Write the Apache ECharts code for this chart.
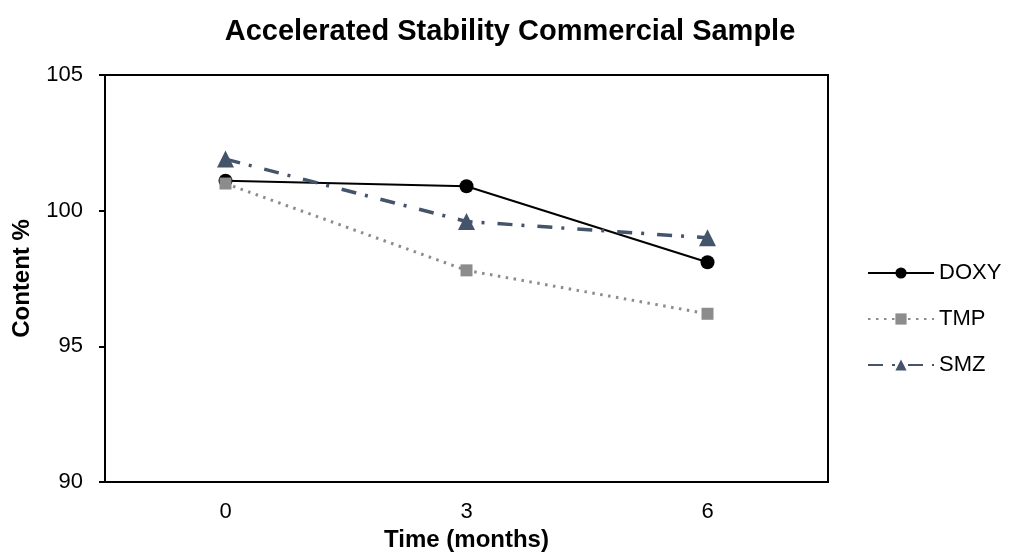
<!DOCTYPE html>
<html>
<head>
<meta charset="utf-8">
<script src="https://cdn.jsdelivr.net/npm/echarts@6/dist/echarts.min.js"></script>
<style>html,body{margin:0;padding:0;background:#fff}#c{width:1009px;height:558px}</style>
</head>
<body>
<div id="c"></div>
<script>
const categories = ['0', '3', '6'];
const doxy = [101.1, 100.9, 98.1];
const tmp = [101.0, 97.8, 96.2];
const smz = [101.9, 99.6, 99.0];
const seriesNames = ['DOXY', 'TMP', 'SMZ'];

const font = 'Liberation Sans, Arial, sans-serif';
const chart = echarts.init(document.getElementById('c'), null, {renderer: 'canvas'});
chart.setOption({
  animation: false,
  backgroundColor: '#fff',
  title: {
    text: 'Accelerated Stability Commercial Sample',
    left: 505, top: 12, textAlign: 'center',
    textStyle: {fontFamily: font, fontSize: 29, fontWeight: 'bold', color: '#000'}
  },
  grid: {left: 105, right: 181, top: 75, bottom: 76, show: true, borderColor: '#000', borderWidth: 2, backgroundColor: 'transparent'},
  legend: {
    orient: 'vertical', left: 862, top: 257,
    itemWidth: 66, itemHeight: 14, itemGap: 24, padding: [5, 0, 5, 5],
    textStyle: {fontFamily: font, fontSize: 22, color: '#000'},
    data: seriesNames
  },
  xAxis: {
    type: 'category', data: categories,
    name: 'Time (months)', nameLocation: 'middle', nameGap: 39,
    nameTextStyle: {fontFamily: font, fontSize: 24, fontWeight: 'bold', color: '#000'},
    axisLine: {lineStyle: {color: '#000', width: 2}},
    axisTick: {show: false},
    axisLabel: {fontFamily: font, fontSize: 22, color: '#000', margin: 19},
    splitLine: {show: false}
  },
  yAxis: {
    type: 'value', min: 90, max: 105, interval: 5,
    name: 'Content %', nameLocation: 'middle', nameGap: 71,
    nameTextStyle: {fontFamily: font, fontSize: 24, fontWeight: 'bold', color: '#000'},
    axisLine: {show: true, lineStyle: {color: '#000', width: 2}},
    axisTick: {show: true, length: 6, lineStyle: {color: '#000', width: 2}},
    axisLabel: {fontFamily: font, fontSize: 22, color: '#000', margin: 22},
    splitLine: {show: false}
  },
  series: [
    {
      name: seriesNames[0], type: 'line', data: doxy,
      symbol: 'circle', symbolSize: 14,
      itemStyle: {color: '#000'},
      lineStyle: {color: '#000', width: 2, type: 'solid'}
    },
    {
      name: seriesNames[1], type: 'line', data: tmp,
      symbol: 'rect', symbolSize: 12,
      itemStyle: {color: '#8c8c8c'},
      lineStyle: {color: '#8c8c8c', width: 3, type: [2.5, 5.5]}
    },
    {
      name: seriesNames[2], type: 'line', data: smz,
      symbol: 'triangle', symbolSize: 17,
      itemStyle: {color: '#44546a'},
      lineStyle: {color: '#44546a', width: 3.5, type: [15, 9, 3, 13]}
    }
  ]
});
</script>
</body>
</html>
